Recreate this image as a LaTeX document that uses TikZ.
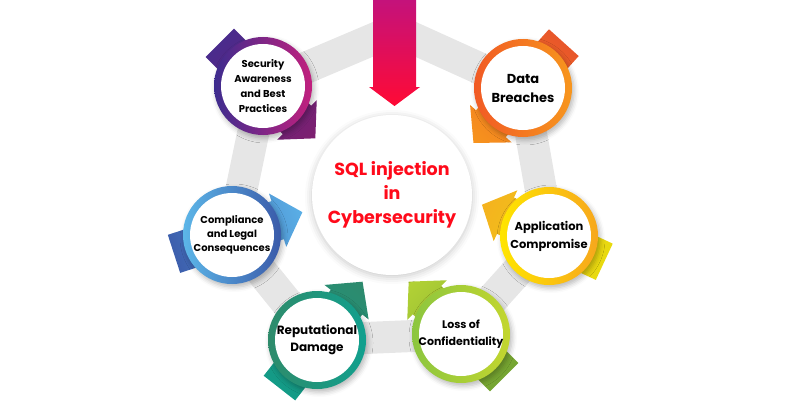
\documentclass[tikz,border=0pt]{standalone}
\usepackage{fontspec}
\setmainfont{Poppins}
\usepackage{tikz}
\usetikzlibrary{shadows.blur}
\definecolor{bandgray}{HTML}{E6E6E6}
\definecolor{sqlred}{HTML}{FF0A1A}
\definecolor{dropA}{HTML}{C4127B}
\definecolor{dropB}{HTML}{FF0A35}
% arrow colours (tail / head) and ring colours (left / right)
\definecolor{secT}{HTML}{4A2B8C}  \definecolor{secH}{HTML}{7E1F6F}
\definecolor{secL}{HTML}{3D2C8E}  \definecolor{secR}{HTML}{C2207E}
\definecolor{dataT}{HTML}{E8562A} \definecolor{dataH}{HTML}{F7941D}
\definecolor{dataL}{HTML}{F15A24} \definecolor{dataR}{HTML}{F7961E}
\definecolor{appT}{HTML}{E8DA0F}  \definecolor{appH}{HTML}{F5B21F}
\definecolor{appL}{HTML}{FFE500}  \definecolor{appR}{HTML}{F7A71D}
\definecolor{lossT}{HTML}{74A432} \definecolor{lossH}{HTML}{B3D235}
\definecolor{lossL}{HTML}{8CC63F} \definecolor{lossR}{HTML}{C3D62F}
\definecolor{repT}{HTML}{139B87}  \definecolor{repH}{HTML}{2E8A6D}
\definecolor{repL}{HTML}{2E8B6B}  \definecolor{repR}{HTML}{11A08E}
\definecolor{compT}{HTML}{3D5FAD} \definecolor{compH}{HTML}{5AAFE6}
\definecolor{compL}{HTML}{5CB6E8} \definecolor{compR}{HTML}{3A5AA9}

\begin{document}
\begin{tikzpicture}[
    x=1pt, y=1pt,
    every node/.style = {align=center},
    band/.style = {draw=bandgray, line width=32pt, line join=round},
    hub/.style  = {
        circle, fill=white, minimum size=160pt, inner sep=0pt,
        text=sqlred, font=\bfseries\fontsize{17.5}{24}\selectfont,
        blur shadow={shadow xshift=0pt, shadow yshift=-2pt,
                     shadow blur radius=7pt, shadow opacity=22}
    },
    topic/.style 2 args = {
        circle, minimum size=98pt, inner sep=0pt,
        left color=#1, right color=#2, text=black,
        font=\bfseries\fontsize{11}{15}\selectfont,
        path picture={\fill[white] (path picture bounding box.center)
                      circle[radius=42pt];},
        blur shadow={shadow xshift=2pt, shadow yshift=-3pt,
                     shadow blur radius=5pt, shadow opacity=28}
    },
]
\useasboundingbox (0,0) rectangle (800,400);

% --- positions ---
\coordinate (peak) at (395,370);
\coordinate (c-sec)  at (263,314);
\coordinate (c-data) at (523,312);
\coordinate (c-app)  at (549,164);
\coordinate (c-loss) at (461,66);
\coordinate (c-rep)  at (317,60);
\coordinate (c-comp) at (232,165);

% --- gray ring ---
\draw[band] (peak) -- (c-data) -- (c-app) -- (c-loss) -- (c-rep)
    -- (c-comp) -- (c-sec) -- cycle;

% --- arrows behind the topic circles ---
\foreach \c/\a/\ct/\ch in {c-sec/-45/secT/secH, c-data/-132/dataT/dataH,
        c-app/155/appT/appH, c-loss/135/lossT/lossH,
        c-rep/52/repT/repH, c-comp/18/compT/compH}{
    \begin{scope}[transform canvas={shift={(\c)}, rotate=\a}]
        \shade[left color=\ct, right color=\ch]
            (-61,-20) -- (48,-20) -- (48,-28) -- (74,0) -- (48,28)
            -- (48,20) -- (-61,20) -- cycle;
    \end{scope}
}

% --- arrow from the top ---
\shade[top color=dropA, bottom color=dropB]
    (373,400) -- (416,400) -- (416,313) -- (420,313) -- (394.5,294)
    -- (369,313) -- (373,313) -- cycle;

% --- hub ---
\node[hub] (hub) at (392,205) {SQL injection\\in\\Cybersecurity};

% --- topics ---
\node[topic={secL}{secR}, font=\bfseries\fontsize{10}{15}\selectfont]
    (sec) at (c-sec) {Security\\Awareness\\and Best\\Practices};
\node[topic={dataL}{dataR}, font=\bfseries\fontsize{13}{19}\selectfont]
    (data) at (c-data) {Data\\Breaches};
\node[topic={appL}{appR}, font=\bfseries\fontsize{11.5}{18}\selectfont]
    (app) at (c-app) {Application\\Compromise};
\node[topic={lossL}{lossR}, font=\bfseries\fontsize{11}{17}\selectfont]
    (loss) at (c-loss) {Loss of\\Confidentiality};
\node[topic={repL}{repR}, font=\bfseries\fontsize{12}{17}\selectfont]
    (rep) at (c-rep) {Reputational\\Damage};
\node[topic={compL}{compR}, font=\bfseries\fontsize{10}{14}\selectfont]
    (comp) at (c-comp) {Compliance\\and Legal\\Consequences};

\end{tikzpicture}
\end{document}
